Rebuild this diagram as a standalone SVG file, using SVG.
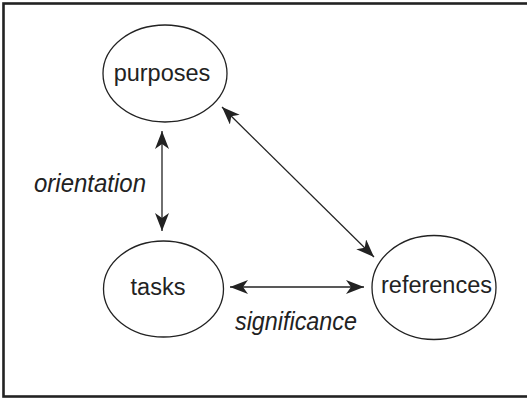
<svg xmlns="http://www.w3.org/2000/svg" width="527" height="406" viewBox="0 0 527 406">
<style>
.node ellipse{fill:#fff;stroke:#222;stroke-width:1.3}
.lbl{font-family:"Liberation Sans",Arial,sans-serif;font-size:23.5px;fill:#222;text-anchor:middle}
.edge{font-family:"Liberation Sans",Arial,sans-serif;font-size:26.5px;font-style:italic;fill:#222;text-anchor:middle}
.conn line{stroke:#222;stroke-width:1.3;marker-start:url(#ah);marker-end:url(#ah)}
</style>
<defs>
<marker id="ah" markerUnits="userSpaceOnUse" markerWidth="20" markerHeight="16" refX="18" refY="7" orient="auto-start-reverse">
<path d="M0,0 L18,7 L0,14 L5,7 z" fill="#222"/>
</marker>
</defs>
<rect x="3.5" y="3.5" width="540" height="393" fill="#fff" stroke="#222" stroke-width="2.6"/>
<g class="conn">
<line x1="162" y1="131" x2="162" y2="231"/>
<line x1="222" y1="107" x2="374" y2="257"/>
<line x1="230" y1="287" x2="364" y2="287"/>
</g>
<g id="purposes" class="node">
<ellipse cx="165" cy="73.5" rx="62" ry="48.5"/>
<text class="lbl" x="162" y="81">purposes</text>
</g>
<g id="tasks" class="node">
<ellipse cx="163.5" cy="289" rx="60" ry="48"/>
<text class="lbl" x="158" y="295">tasks</text>
</g>
<g id="references" class="node">
<ellipse cx="434" cy="287.5" rx="62" ry="52"/>
<text class="lbl" x="436.5" y="293">references</text>
</g>
<text class="edge" x="90" y="192" textLength="112" lengthAdjust="spacingAndGlyphs">orientation</text>
<text class="edge" x="296" y="330" textLength="122" lengthAdjust="spacingAndGlyphs">significance</text>
</svg>
